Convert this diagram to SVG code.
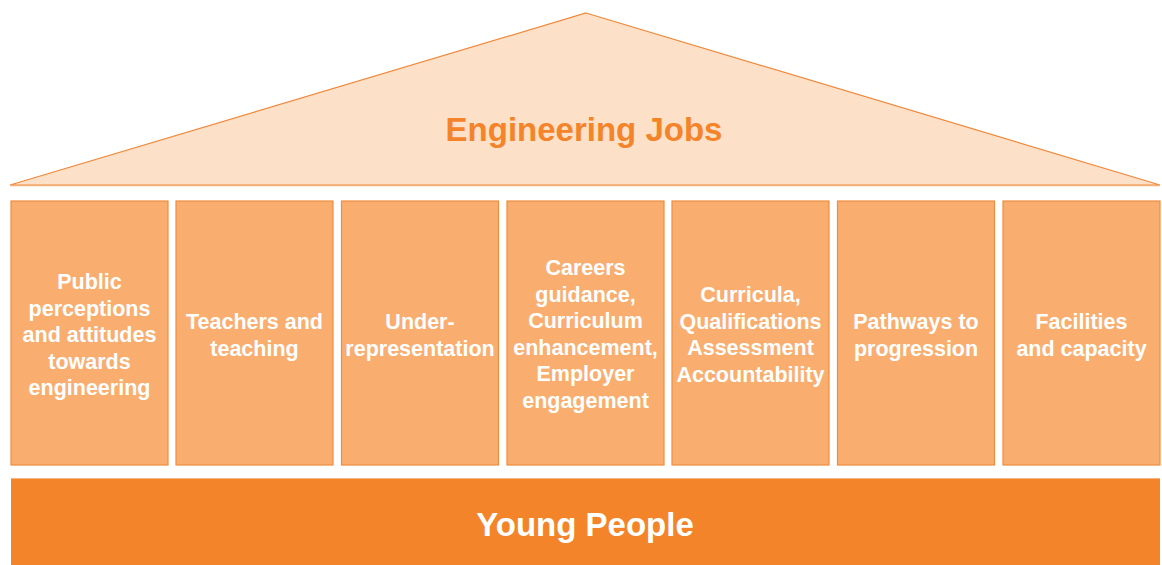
<svg xmlns="http://www.w3.org/2000/svg" width="1162" height="565" viewBox="0 0 1162 565">
<style>
.pillar{fill:#F9AE6F;stroke:#EE8C3E;stroke-width:1.2}
.pt{font-family:"Liberation Sans",Arial,sans-serif;font-weight:bold;font-size:21.5px;fill:#FFFFFF;text-anchor:middle}
.big{font-family:"Liberation Sans",Arial,sans-serif;font-weight:bold;font-size:33px;text-anchor:middle}
</style>
<rect width="1162" height="565" fill="#FFFFFF"/>
<g id="roof">
<polygon points="586,13 1160,185 10,185" fill="#FDE0C8" stroke="#F0883A" stroke-width="1.2"/>
<line x1="10" y1="185.5" x2="1160" y2="185.5" stroke="#F6B07A" stroke-width="1.5"/>
<text class="big" x="584" y="141" fill="#F4842A">Engineering Jobs</text>
</g>
<g id="connectors"></g>
<g id="p1">
<rect class="pillar" x="11" y="201" width="157" height="264"/>
<text class="pt" x="89.5" y="289">Public</text>
<text class="pt" x="89.5" y="315.5">perceptions</text>
<text class="pt" x="89.5" y="342">and attitudes</text>
<text class="pt" x="89.5" y="368.5">towards</text>
<text class="pt" x="89.5" y="395">engineering</text>
</g>
<g id="p2">
<rect class="pillar" x="176" y="201" width="157" height="264"/>
<text class="pt" x="254.5" y="329">Teachers and</text>
<text class="pt" x="254.5" y="355.5">teaching</text>
</g>
<g id="p3">
<rect class="pillar" x="341.5" y="201" width="157" height="264"/>
<text class="pt" x="420" y="329">Under-</text>
<text class="pt" x="420" y="355.5">representation</text>
</g>
<g id="p4">
<rect class="pillar" x="507" y="201" width="157" height="264"/>
<text class="pt" x="585.5" y="275">Careers</text>
<text class="pt" x="585.5" y="301.5">guidance,</text>
<text class="pt" x="585.5" y="328">Curriculum</text>
<text class="pt" x="585.5" y="354.5">enhancement,</text>
<text class="pt" x="585.5" y="381">Employer</text>
<text class="pt" x="585.5" y="407.5">engagement</text>
</g>
<g id="p5">
<rect class="pillar" x="672" y="201" width="157" height="264"/>
<text class="pt" x="750.5" y="302">Curricula,</text>
<text class="pt" x="750.5" y="328.5">Qualifications</text>
<text class="pt" x="750.5" y="355">Assessment</text>
<text class="pt" x="750.5" y="381.5">Accountability</text>
</g>
<g id="p6">
<rect class="pillar" x="837.5" y="201" width="157" height="264"/>
<text class="pt" x="916" y="329">Pathways to</text>
<text class="pt" x="916" y="355.5">progression</text>
</g>
<g id="p7">
<rect class="pillar" x="1003" y="201" width="157" height="264"/>
<text class="pt" x="1081.5" y="329">Facilities</text>
<text class="pt" x="1081.5" y="355.5">and capacity</text>
</g>
<g id="base">
<rect x="11" y="478" width="1149" height="87" fill="#F4842A"/>
<line x1="11" y1="478.5" x2="1160" y2="478.5" stroke="#F8B47E" stroke-width="1"/>
<text class="big" x="585" y="536" fill="#FFFFFF">Young People</text>
</g>
</svg>
